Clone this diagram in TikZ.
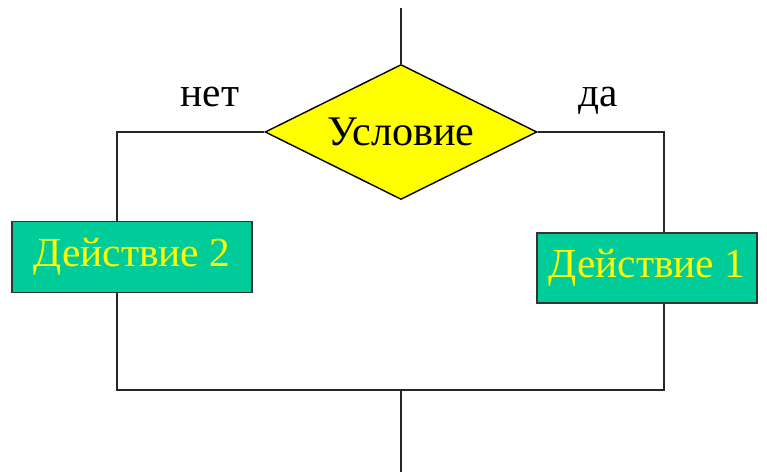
\documentclass[tikz,border=0pt]{standalone}
\usepackage{fontspec}
\setmainfont{Liberation Serif}
\usetikzlibrary{shapes.geometric}
\definecolor{teal1}{RGB}{0,204,153}
\definecolor{yel1}{RGB}{255,255,0}
\begin{document}
\begin{tikzpicture}[x=0.02cm,y=-0.02cm]
 \tikzstyle{cond}=[diamond,aspect=2,draw=black,fill=yel1,thick,minimum width=5.44cm,minimum height=2.7cm,inner sep=0pt,font=\fontsize{24}{26}\selectfont]
 \tikzstyle{act}=[rectangle,draw=black!80,fill=teal1,thick,text=yel1,inner sep=0pt,font=\fontsize{23.5}{26}\selectfont]
 \tikzstyle{lab}=[font=\fontsize{23.5}{26}\selectfont]
 \tikzstyle{ligne}=[line width=1.1pt,black!85]
 \useasboundingbox (0,0) rectangle (767,472);
 \node[cond] (D) at (401,132) {Условие};
 \node[act,minimum width=4.8cm,minimum height=1.42cm] (A2) at (132,257) {Действие 2};
 \node[act,minimum width=4.4cm,minimum height=1.4cm] (A1) at (647,268) {Действие 1};
 \node[lab] (no) at (210,97) {нет};
 \node[lab] (yes) at (598,101) {да};
 \coordinate (T) at (401,8);
 \coordinate (L1) at (117,132);
 \coordinate (R1) at (664,132);
 \coordinate (L2) at (117,390);
 \coordinate (R2) at (664,390);
 \coordinate (M) at (401,390);
 \coordinate (E) at (401,472);
 \draw[ligne] (T)--(D.north);
 \draw[ligne] (D.west)--(L1)--(A2.north -| L1);
 \draw[ligne] (D.east)--(R1)--(A1.north -| R1);
 \draw[ligne] (A2.south -| L2)--(L2)--(R2)--(A1.south -| R2);
 \draw[ligne] (M)--(E);
\end{tikzpicture}
\end{document}
